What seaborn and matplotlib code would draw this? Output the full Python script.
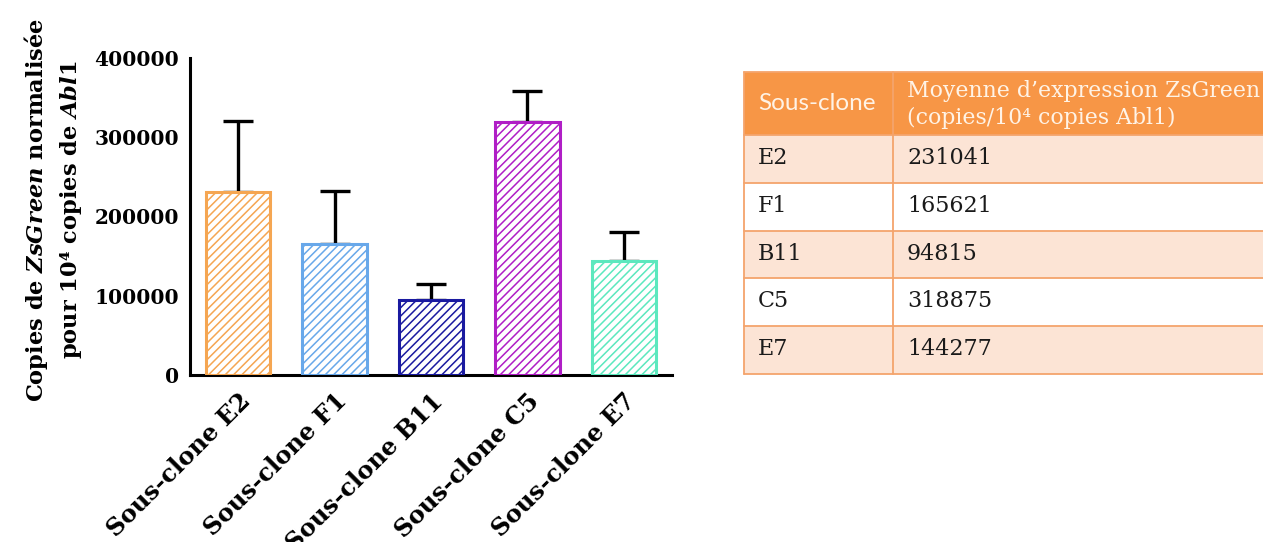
import seaborn as sns
import pandas as pd
import numpy as np
import matplotlib.pyplot as plt
from matplotlib.patches import Rectangle

# données
clones = ['E2', 'F1', 'B11', 'C5', 'E7']
moyennes = [231041, 165621, 94815, 318875, 144277]
ecarts = [90000, 67000, 20000, 39000, 36000]
couleurs = ['#F5A652', '#68A8EA', '#1A1AA0', '#B01EC6', '#5CE8BE']
labels = ['Sous-clone ' + c for c in clones]

sns.set_style('white')
plt.rcParams['font.family'] = ['DejaVu Serif']
plt.rcParams['mathtext.fontset'] = 'custom'
plt.rcParams['mathtext.it'] = 'DejaVu Serif:italic:bold'
plt.rcParams['mathtext.rm'] = 'DejaVu Serif:bold'
plt.rcParams['hatch.linewidth'] = 1.1

fig = plt.figure(figsize=(12.63, 5.42), dpi=100)
ax = fig.add_axes([190 / 1263, 1 - 375 / 542, (672 - 190) / 1263, (375 - 58) / 542])

df = pd.DataFrame({'clone': labels, 'valeur': moyennes})
sns.barplot(data=df, x='clone', y='valeur', hue='clone', palette=couleurs,
            legend=False, width=0.67, ax=ax, zorder=3)
for bar, c in zip(ax.patches, couleurs):
    bar.set_facecolor('white')
    bar.set_edgecolor(c)
    bar.set_hatch('////')
    bar.set_linewidth(2.2)

ax.errorbar(np.arange(len(clones)), moyennes, yerr=[np.zeros(len(clones)), ecarts],
            fmt='none', ecolor='black', elinewidth=2.4, capsize=10.5, capthick=2.4, zorder=2)

ax.set_xlim(-0.5, 4.5)
ax.set_ylim(0, 400000)
ax.set_yticks([0, 100000, 200000, 300000, 400000])
ax.set_yticklabels(['0', '100000', '200000', '300000', '400000'], fontsize=14.5,
                   fontweight='bold', color='black')
ax.set_xticks(np.arange(len(clones)))
ax.set_xticklabels(labels, rotation=45, ha='right', rotation_mode='anchor',
                   fontsize=17.5, fontweight='bold', color='black')
ax.tick_params(axis='both', direction='out', length=6, width=2.2, color='black', pad=2)
ax.tick_params(axis='x', pad=4)
ax.set_xlabel('')
ax.set_ylabel('')
for s in ['top', 'right']:
    ax.spines[s].set_visible(False)
for s in ['left', 'bottom']:
    ax.spines[s].set_linewidth(2.2)
    ax.spines[s].set_color('black')

fig.text(0.042, 1 - 210 / 542,
         'Copies de $ZsGreen$ normalisée\npour 10⁴ copies de $Abl1$',
         rotation=90, ha='center', va='center', multialignment='center',
         fontsize=16.2, fontweight='bold', linespacing=1.4, color='black')

# tableau à droite
tab = fig.add_axes([0, 0, 1, 1], zorder=-1)
tab.set_xlim(0, 1263)
tab.set_ylim(542, 0)
tab.axis('off')
x0, x1, x2 = 744, 893, 1275
haut, h_ent, h_row = 72, 63, 47.8
bord = '#F4A46C'
tab.add_patch(Rectangle((x0, haut), x2 - x0, h_ent, facecolor='#F79646', edgecolor='none'))
for i, (c, v) in enumerate(zip(clones, moyennes)):
    y = haut + h_ent + i * h_row
    fond = '#FCE4D5' if i % 2 == 0 else 'white'
    tab.add_patch(Rectangle((x0, y), x2 - x0, h_row, facecolor=fond, edgecolor='none'))
    tab.plot([x0, x2], [y, y], color=bord, lw=1.3)
    tab.text(x0 + 14, y + h_row / 2 - 1, c, fontsize=16, va='center', color='#1a1a1a')
    tab.text(x1 + 14, y + h_row / 2 - 1, str(v), fontsize=16, va='center', color='#1a1a1a')
bas = haut + h_ent + len(clones) * h_row
tab.plot([x0, x2], [bas, bas], color=bord, lw=1.3)
tab.plot([x0, x0], [haut, bas], color=bord, lw=1.3)
tab.plot([x1, x1], [haut, bas], color=bord, lw=1.3)
tab.plot([x0, x2], [haut, haut], color=bord, lw=1.3)
tab.text(x0 + 14, haut + h_ent / 2, 'Sous-clone', fontsize=17.5, va='center',
         color='#FFF3E6', family='Lato')
tab.text(x1 + 14, haut + h_ent / 2 + 1, 'Moyenne d’expression ZsGreen\n(copies/10⁴ copies Abl1)',
         fontsize=15.8, va='center', color='#FFF3E6', linespacing=1.3)

fig.savefig('out.png', dpi=100)
